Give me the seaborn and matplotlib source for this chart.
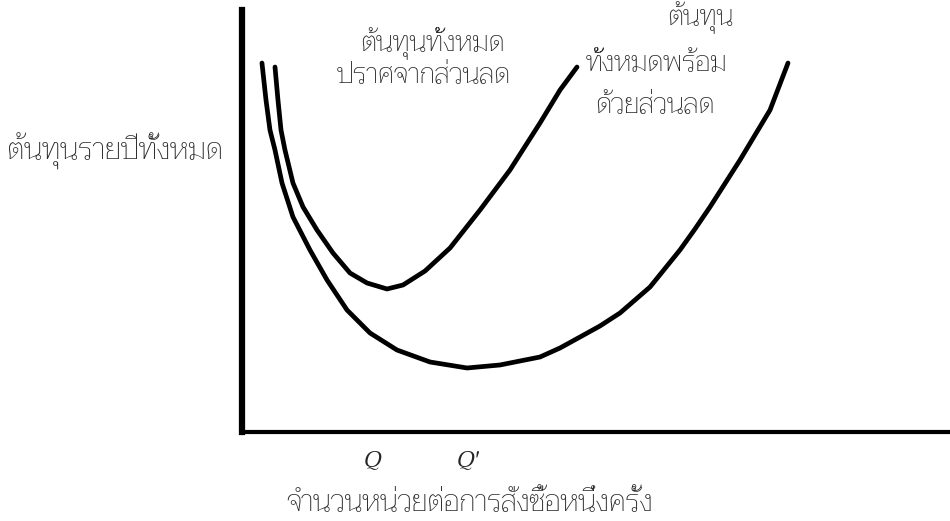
import matplotlib
matplotlib.use("Agg")
import matplotlib.pyplot as plt
import seaborn as sns
import pandas as pd

# Values (arbitrary units, 0-100 on both axes)
qty_with_discount = [2.82, 3.39, 3.95, 4.66, 5.65, 7.20, 9.60, 12.01, 14.83, 18.08,
                     21.89, 26.55, 31.78, 36.44, 42.09, 44.92, 47.74, 50.56, 53.39,
                     57.63, 61.86, 63.98, 66.10, 70.34, 72.46, 74.58, 77.12]
cost_with_discount = [87.44, 78.67, 71.56, 66.82, 59.00, 50.95, 43.13, 36.02, 28.91,
                      23.46, 19.43, 16.59, 15.17, 15.88, 17.77, 19.91, 22.51, 25.12,
                      28.20, 34.36, 43.13, 48.10, 53.32, 64.45, 70.38, 76.30, 87.44]
qty_no_discount = [4.66, 5.08, 5.51, 6.07, 7.20, 8.62, 10.59, 12.85, 15.25, 17.66,
                   20.48, 22.74, 25.85, 29.38, 33.62, 37.85, 42.09, 44.92, 47.32]
cost_no_discount = [86.49, 78.67, 71.56, 66.82, 59.00, 53.32, 47.87, 42.42, 37.68,
                    35.31, 33.89, 34.83, 38.15, 43.60, 52.61, 62.09, 73.22, 81.04, 86.49]
tick_pos = [18.4, 31.9]
tick_labels = ["Q", "Q′"]

label_no_discount = ["ต้นทุนทั้งหมด", "ปราศจากส่วนลด"]
label_with_discount = ["ต้นทุน", "ทั้งหมดพร้อม", "ด้วยส่วนลด"]
y_title = "ต้นทุนรายปีทั้งหมด"
x_title = "จำนวนหน่วยต่อการสั่งซื้อหนึ่งครั้ง"

sns.set_theme(style="white")
plt.rcParams['font.family'] = ['Taviraj', 'DejaVu Sans']

df1 = pd.DataFrame({"q": qty_with_discount, "c": cost_with_discount})
df2 = pd.DataFrame({"q": qty_no_discount, "c": cost_no_discount})

fig = plt.figure(figsize=(9.5, 5.21), dpi=100)
ax = fig.add_axes([242 / 950, 89 / 521, 708 / 950, 422 / 521])

for d in (df1, df2):
    sns.lineplot(data=d, x="q", y="c", sort=False, color="black", lw=3.4,
                 solid_joinstyle="round", solid_capstyle="round", ax=ax)

ax.set_xlim(0, 100)
ax.set_ylim(0, 100)
for s in ["top", "right"]:
    ax.spines[s].set_visible(False)
ax.spines["left"].set_linewidth(4.5)
ax.spines["bottom"].set_linewidth(3)
ax.spines["left"].set_color("black")
ax.spines["bottom"].set_color("black")

ax.set_yticks([])
ax.set_xticks(tick_pos)
ax.set_xticklabels(tick_labels, fontsize=17, style="italic", fontweight="normal")
ax.tick_params(axis="x", length=0, pad=13)

ax.set_xlabel(x_title, fontsize=21, fontweight="light")
ax.xaxis.set_label_coords(0.322, -0.138)
ax.set_ylabel(y_title, fontsize=21.5, fontweight="light", rotation=0,
              va="center", ha="center")
ax.yaxis.set_label_coords(-0.179, 0.664)

# curve captions (pixel positions converted to figure fractions)
def put(txt, x, y):
    fig.text(x / 950, 1 - y / 521, txt, fontsize=20, fontweight="light",
             ha="center", va="center")

put(label_no_discount[0], 432, 44)
put(label_no_discount[1], 424, 76)
put(label_with_discount[0], 700, 18)
put(label_with_discount[1], 657, 64)
put(label_with_discount[2], 655, 106)

fig.savefig("out.png", dpi=100, facecolor="white")
